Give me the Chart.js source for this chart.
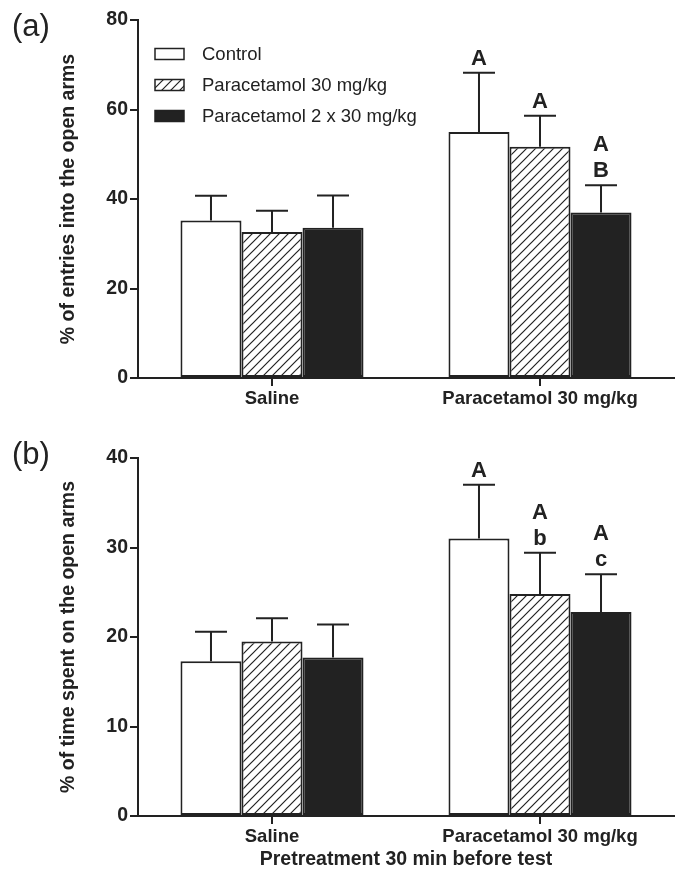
<!DOCTYPE html>
<html>
<head>
<meta charset="utf-8">
<script src="https://cdn.jsdelivr.net/npm/chart.js@4.4.0/dist/chart.umd.min.js"></script>
<style>
body { margin: 0; background: #fff; width: 678px; height: 871px; position: relative; overflow: hidden; }
canvas { position: absolute; left: 0; }
</style>
</head>
<body>
<canvas id="chartA" width="678" height="420" style="top:0"></canvas>
<canvas id="chartB" width="678" height="451" style="top:420px"></canvas>
<script>
const groups = ['Saline', 'Paracetamol 30 mg/kg'];
const seriesNames = ['Control', 'Paracetamol 30 mg/kg', 'Paracetamol 2 x 30 mg/kg'];

// (a) % entries into the open arms : mean, SEM, letters
const entriesControl = [35.2, 55.0];
const entriesPara = [32.6, 51.7];
const entriesDouble = [33.6, 37.0];
const entriesControlSem = [5.5, 13.2];
const entriesParaSem = [4.8, 6.9];
const entriesDoubleSem = [7.2, 6.1];
const entriesControlLetters = [[], ['A']];
const entriesParaLetters = [[], ['A']];
const entriesDoubleLetters = [[], ['A', 'B']];

// (b) % time spent on the open arms
const timeControl = [17.3, 31.0];
const timePara = [19.5, 24.8];
const timeDouble = [17.7, 22.8];
const timeControlSem = [3.3, 6.0];
const timeParaSem = [2.6, 4.6];
const timeDoubleSem = [3.7, 4.2];
const timeControlLetters = [[], ['A']];
const timeParaLetters = [[], ['A', 'b']];
const timeDoubleLetters = [[], ['A', 'c']];

const ink = '#222';
const FONT = '"Liberation Sans", Arial, Helvetica, sans-serif';
Chart.defaults.font.family = FONT;
Chart.defaults.color = ink;

function hatchPattern() {
	const c = document.createElement('canvas');
	c.width = 9; c.height = 9;
	const g = c.getContext('2d');
	g.fillStyle = '#fff';
	g.fillRect(0, 0, 9, 9);
	g.strokeStyle = ink;
	g.lineWidth = 1.2;
	g.beginPath();
	g.moveTo(-1, 10); g.lineTo(10, -1);
	g.moveTo(-1, 1); g.lineTo(1, -1);
	g.moveTo(8, 10); g.lineTo(10, 8);
	g.stroke();
	return g.createPattern(c, 'repeat');
}
const hatch = hatchPattern();
const fills = ['#fff', hatch, ink];

// error bars (upper only) + significance letters
const errorBars = {
	id: 'errorBars',
	afterDatasetsDraw(chart) {
		const ctx = chart.ctx, y = chart.scales.y;
		chart.data.datasets.forEach((ds, i) => {
			chart.getDatasetMeta(i).data.forEach((bar, j) => {
				const top = y.getPixelForValue(ds.data[j] + ds.sem[j]);
				ctx.save();
				ctx.strokeStyle = ink;
				ctx.lineWidth = 2;
				ctx.beginPath();
				ctx.moveTo(bar.x, bar.y);
				ctx.lineTo(bar.x, top);
				ctx.moveTo(bar.x - 16, top);
				ctx.lineTo(bar.x + 16, top);
				ctx.stroke();
				const lines = ds.letters[j];
				ctx.fillStyle = ink;
				ctx.font = 'bold 22px ' + FONT;
				ctx.textAlign = 'center';
				ctx.textBaseline = 'alphabetic';
				lines.forEach((t, k) => {
					ctx.fillText(t, bar.x, top - 8 - (lines.length - 1 - k) * 26);
				});
				ctx.restore();
			});
		});
	}
};

// panel letter and in-plot legend
const extras = {
	id: 'extras',
	afterDraw(chart, args, opts) {
		const ctx = chart.ctx;
		ctx.save();
		ctx.fillStyle = ink;
		ctx.font = '31px ' + FONT;
		ctx.textAlign = 'left';
		ctx.textBaseline = 'middle';
		ctx.fillText(opts.panel, 12, opts.panelY);
		if (opts.legend) {
			ctx.font = '18.5px ' + FONT;
			chart.data.datasets.forEach((ds, i) => {
				const cy = 54 + i * 31;
				ctx.fillStyle = ds.backgroundColor;
				ctx.fillRect(155, cy - 5.5, 29, 11);
				ctx.strokeStyle = ink;
				ctx.lineWidth = 1.5;
				ctx.strokeRect(155, cy - 5.5, 29, 11);
				ctx.fillStyle = ink;
				ctx.fillText(ds.label, 202, cy + 1);
			});
		}
		ctx.restore();
	}
};

function makeChart(id, values, sems, letters, yMax, yStep, yTitle, xTitle, top, xHeight, extraOpts) {
	return new Chart(document.getElementById(id), {
		type: 'bar',
		data: {
			labels: groups,
			datasets: seriesNames.map((name, i) => ({
				label: name,
				data: values[i],
				sem: sems[i],
				letters: letters[i],
				backgroundColor: fills[i],
				borderColor: ink,
				borderWidth: 2,
				borderSkipped: false,
				categoryPercentage: 0.683,
				barPercentage: 1
			}))
		},
		options: {
			responsive: false,
			animation: false,
			layout: { padding: { left: 57, top: top, right: 4, bottom: 0 } },
			plugins: { legend: { display: false }, tooltip: { enabled: false }, extras: extraOpts },
			scales: {
				x: {
					grid: { offset: false, drawOnChartArea: false, drawTicks: true, tickLength: 8, color: ink, lineWidth: 2 },
					border: { color: ink, width: 2 },
					ticks: { color: ink, font: { size: 18.5, weight: 'bold' }, padding: 2 },
					title: { display: !!xTitle, text: xTitle, color: ink, font: { size: 19.5, weight: 'bold' }, padding: { top: 0, bottom: 0 } },
					afterFit(s) { s.height = xHeight; }
				},
				y: {
					min: 0,
					max: yMax,
					ticks: { stepSize: yStep, color: ink, font: { size: 19.5, weight: 'bold' }, padding: 2 },
					grid: { drawOnChartArea: false, drawTicks: true, tickLength: 8, color: ink, lineWidth: 2 },
					border: { color: ink, width: 2 },
					title: { display: true, text: yTitle, color: ink, font: { size: 19.5, weight: 'bold' }, padding: { top: 0, bottom: 0 } },
					afterFit(s) { s.width = 81; }
				}
			}
		},
		plugins: [errorBars, extras]
	});
}

makeChart('chartA',
	[entriesControl, entriesPara, entriesDouble],
	[entriesControlSem, entriesParaSem, entriesDoubleSem],
	[entriesControlLetters, entriesParaLetters, entriesDoubleLetters],
	80, 20, '% of entries into the open arms', '', 20, 42,
	{ panel: '(a)', panelY: 27, legend: true });

makeChart('chartB',
	[timeControl, timePara, timeDouble],
	[timeControlSem, timeParaSem, timeDoubleSem],
	[timeControlLetters, timeParaLetters, timeDoubleLetters],
	40, 10, '% of time spent on the open arms', 'Pretreatment 30 min before test', 38, 55,
	{ panel: '(b)', panelY: 35, legend: false });
</script>
</body>
</html>
